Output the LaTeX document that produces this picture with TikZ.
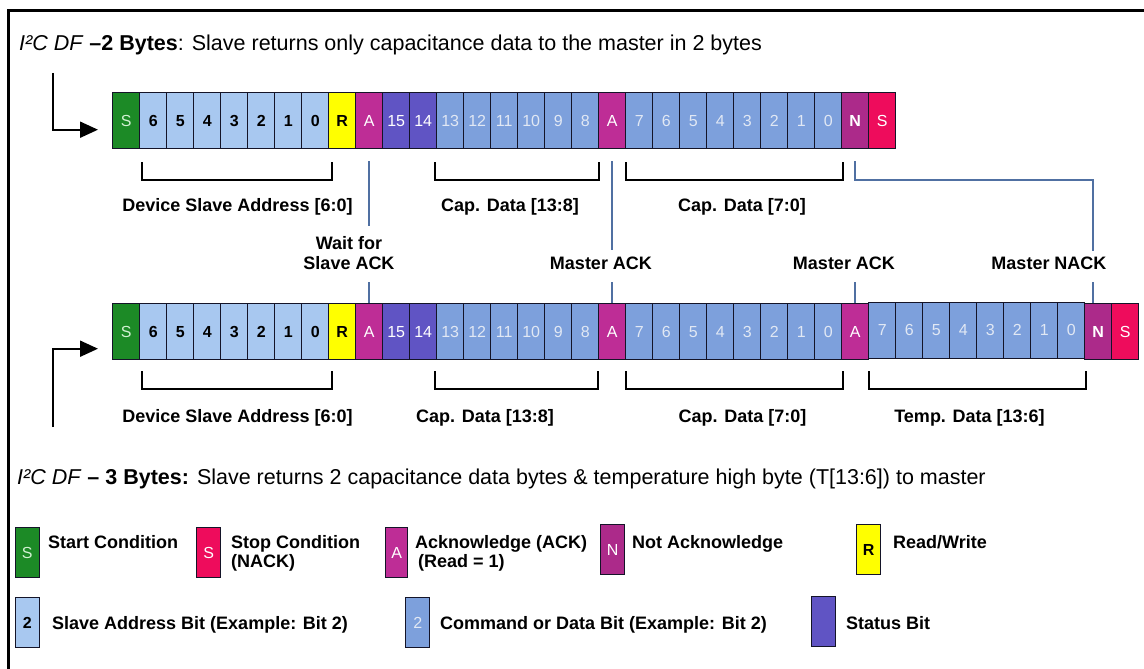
\documentclass[tikz,border=0pt]{standalone}
\usepackage{fontspec}
\setmainfont{Liberation Sans}
\usetikzlibrary{arrows.meta,calc}
\definecolor{cgreen}{RGB}{28,138,38}
\definecolor{cgreentxt}{RGB}{210,240,210}
\definecolor{caddr}{RGB}{168,200,240}
\definecolor{cyel}{RGB}{255,255,0}
\definecolor{cack}{RGB}{190,45,150}
\definecolor{cnack}{RGB}{172,42,138}
\definecolor{cstat}{RGB}{96,84,196}
\definecolor{cdata}{RGB}{125,160,220}
\definecolor{cdatatxt}{RGB}{225,232,244}
\definecolor{cstop}{RGB}{238,12,92}
\definecolor{cborder}{RGB}{20,20,40}
\definecolor{cconn}{RGB}{80,112,162}
\begin{document}
\begin{tikzpicture}[x=1pt,y=-1pt,
  cell/.style={draw=cborder, line width=1.4pt, minimum width=27pt, minimum height=56pt,
    inner sep=0pt, anchor=north west, font=\fontsize{16}{16}\selectfont},
  lg/.style={draw=cborder, line width=1.4pt, minimum width=24pt, minimum height=50pt,
    inner sep=0pt, anchor=north west, font=\fontsize{16}{16}\selectfont},
  st/.style={fill=cgreen, text=cgreentxt},
  ad/.style={fill=caddr, text=black, font=\bfseries\fontsize{16}{16}\selectfont},
  rw/.style={fill=cyel, text=black, font=\bfseries\fontsize{16}{16}\selectfont},
  ak/.style={fill=cack, text=white},
  stt/.style={fill=cstat, text=white},
  da/.style={fill=cdata, text=cdatatxt},
  nk/.style={fill=cnack, text=white, font=\bfseries\fontsize{16}{16}\selectfont},
  sp/.style={fill=cstop, text=white},
  lbl/.style={font=\bfseries\fontsize{18}{19}\selectfont, inner sep=0pt},
  ttl/.style={font=\fontsize{21.5}{22}\selectfont, inner sep=0pt, anchor=base west},
  conn/.style={draw=cconn, line width=2pt},
  brk/.style={draw=black, line width=1.6pt},
  arr/.style={draw=black, line width=2pt, -{Triangle[length=18pt,width=16pt]}}
]
\useasboundingbox (0,0) rectangle (1144,669);
\fill[white] (0,0) rectangle (1144,669);
% frame
\draw[line width=2.4pt] (8.5,669) -- (8.5,10.5) -- (1144,10.5);

% titles
\node[ttl] (t1) at (19,51) {\textit{I²C DF} \textbf{–2 Bytes}: Slave returns only capacitance data to the master in 2 bytes};
\node[ttl] (t2) at (17,484.4) {\textit{I²C DF} \textbf{– 3 Bytes:} Slave returns 2 capacitance data bytes \& temperature high byte (T[13:6]) to master};

% row 1
\foreach \lab/\sty [count=\i from 0] in {S/st,6/ad,5/ad,4/ad,3/ad,2/ad,1/ad,0/ad,R/rw,A/ak,15/stt,14/stt,13/da,12/da,11/da,10/da,9/da,8/da,A/ak,7/da,6/da,5/da,4/da,3/da,2/da,1/da,0/da,N/nk,S/sp}{
  \pgfmathsetmacro{\xx}{112+27*\i}
  \node[cell,\sty] (r1c\i) at (\xx,92) {\lab};
}
% row 2
\foreach \lab/\sty [count=\i from 0] in {S/st,6/ad,5/ad,4/ad,3/ad,2/ad,1/ad,0/ad,R/rw,A/ak,15/stt,14/stt,13/da,12/da,11/da,10/da,9/da,8/da,A/ak,7/da,6/da,5/da,4/da,3/da,2/da,1/da,0/da,A/ak,7/da,6/da,5/da,4/da,3/da,2/da,1/da,0/da,N/nk,S/sp}{
  \pgfmathsetmacro{\xx}{112+27*\i}
  \pgfmathsetmacro{\yy}{(\i>27 && \i<36) ? 301.6 : 303}
  \node[cell,\sty] (r2c\i) at (\xx,\yy) {\lab};
}

% entry arrows
\coordinate (a1) at ([xshift=-14pt,yshift=-9pt]r1c0.west);
\draw[arr] (53,73) |- (a1);
\coordinate (a2) at ([xshift=-14pt,yshift=-17pt]r2c0.west);
\draw[arr] (53,427) |- (a2);

% brackets row 1
\draw[brk] (142,162) -- (142,180) -- (332,180) -- (332,162);
\draw[brk] (435,162) -- (435,180) -- (599,180) -- (599,162);
\draw[brk] (626,162) -- (626,180) -- (843,180) -- (843,162);
% brackets row 2
\draw[brk] (142,371) -- (142,389) -- (332,389) -- (332,371);
\draw[brk] (435,371) -- (435,389) -- (598,389) -- (598,371);
\draw[brk] (626,371) -- (626,389) -- (843,389) -- (843,371);
\draw[brk] (869,371) -- (869,389) -- (1086,389) -- (1086,371);

% bracket labels
\node[lbl, anchor=base] (b1) at (237.5,211.5) {Device Slave Address [6:0]};
\node[lbl, anchor=base west] (b2) at (441,211.5) {Cap. Data [13:8]};
\node[lbl, anchor=base] (b3) at (742,211.5) {Cap. Data [7:0]};
\node[lbl, anchor=base] (b4) at (237.5,422.5) {Device Slave Address [6:0]};
\node[lbl, anchor=base west] (b5) at (416,422.5) {Cap. Data [13:8]};
\node[lbl, anchor=base] (b6) at (742.5,422.5) {Cap. Data [7:0]};
\node[lbl, anchor=base] (b7) at (969.5,422.5) {Temp. Data [13:6]};

% ack labels
\node[lbl, align=center, font=\bfseries\fontsize{18}{20}\selectfont] (wait) at (349,253.1) {Wait for\\Slave ACK};
\node[lbl, anchor=base] (mack1) at (601,269.7) {Master ACK};
\node[lbl, anchor=base] (mack2) at (844,269.7) {Master ACK};
\node[lbl, anchor=base] (mnack) at (1049,269.7) {Master NACK};

% connectors
\draw[conn] ([yshift=-12pt]r1c9.south) -- ($(r1c9.south |- wait.north)+(0,-10)$);
\draw[conn] (r2c9.north) -- ++(0,-21);
\draw[conn] ([yshift=-12pt]r1c18.south) -- ($(r1c18.south |- mack1.north)+(0,-7)$);
\draw[conn] (r2c18.north) -- ++(0,-21);
\draw[conn] (r2c27.north) -- ++(0,-21);
\draw[conn] ([yshift=-12pt]r1c27.south) -- ++(0,19) -| ($([xshift=-5pt]r2c36.north)+(0,-52)$);
\draw[conn] ([xshift=-5pt]r2c36.north) -- ++(0,-21);

% legend
\node[lg,st] (lgS) at (14.5,527) {S};
\node[lbl, anchor=base west] (lgSt) at (48,548) {Start Condition};
\node[lg,sp] (lgP) at (196,527) {S};
\node[lbl, anchor=north west, align=left] (lgPt) at (231,535) {Stop Condition\\(NACK)};
\node[lg,ak,minimum width=22pt] (lgA) at (385,527) {A};
\node[lbl, anchor=north west, align=left] (lgAt) at (415,535) {Acknowledge (ACK)\\\hspace{3pt}(Read = 1)};
\node[lg,nk,font=\fontsize{16}{16}\selectfont] (lgN) at (600,524) {N};
\node[lbl, anchor=base west] (lgNt) at (632,548) {Not Acknowledge};
\node[lg,rw] (lgR) at (856,524) {R};
\node[lbl, anchor=base west] (lgRt) at (893,548) {Read/Write};
\node[lg,ad] (lgD) at (14.5,597) {2};
\node[lbl, anchor=base west] (lgDt) at (52,629.5) {Slave Address Bit (Example: Bit 2)};
\node[lg,da] (lgC) at (405,597) {2};
\node[lbl, anchor=base west] (lgCt) at (440,629.5) {Command or Data Bit (Example: Bit 2)};
\node[lg,stt] (lgB) at (811,596) {};
\node[lbl, anchor=base west] (lgBt) at (846,629.5) {Status Bit};
\end{tikzpicture}
\end{document}
